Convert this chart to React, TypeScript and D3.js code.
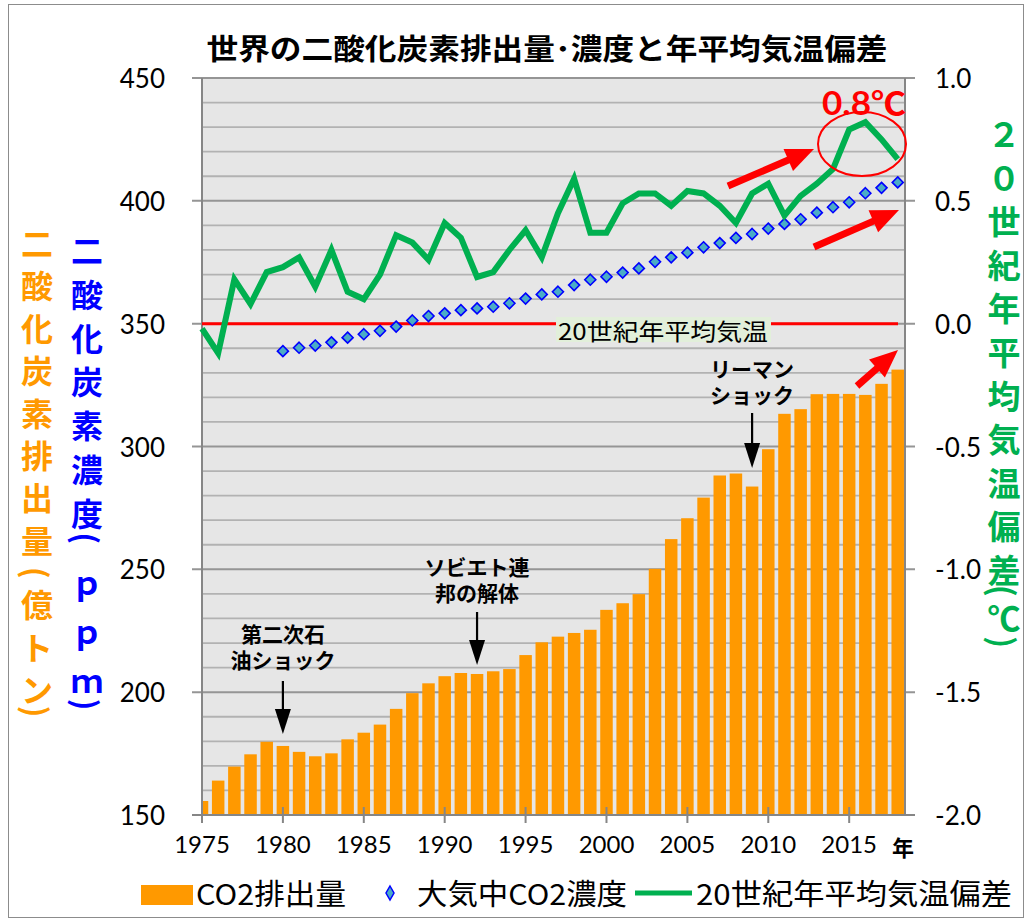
import React from 'react';
import * as d3 from 'd3';

// ---------- data ----------
const years = [
  1975, 1976, 1977, 1978, 1979, 1980, 1981, 1982, 1983, 1984,
  1985, 1986, 1987, 1988, 1989, 1990, 1991, 1992, 1993, 1994,
  1995, 1996, 1997, 1998, 1999, 2000, 2001, 2002, 2003, 2004,
  2005, 2006, 2007, 2008, 2009, 2010, 2011, 2012, 2013, 2014,
  2015, 2016, 2017, 2018,
];
// CO2 emissions (億トン)
const emissions = [
  155.7, 164.0, 169.7, 174.7, 179.8, 178.1, 175.7, 173.9, 175.1, 180.8,
  183.5, 186.8, 193.2, 199.6, 203.6, 206.5, 207.8, 207.4, 208.5, 209.4,
  215.1, 220.3, 222.6, 224.1, 225.4, 233.5, 236.2, 239.9, 250.2, 262.3,
  270.8, 279.2, 288.2, 289.0, 283.7, 298.9, 313.3, 315.2, 321.3, 321.4,
  321.4, 321.0, 325.5, 331.3,
];
// atmospheric CO2 concentration (ppm), 1980-2018
const concYears = [
  1980, 1981, 1982, 1983, 1984, 1985, 1986, 1987, 1988, 1989,
  1990, 1991, 1992, 1993, 1994, 1995, 1996, 1997, 1998, 1999,
  2000, 2001, 2002, 2003, 2004, 2005, 2006, 2007, 2008, 2009,
  2010, 2011, 2012, 2013, 2014, 2015, 2016, 2017, 2018,
];
const concentration = [
  338.8, 340.2, 341.1, 342.4, 344.3, 345.7, 347.1, 348.8, 351.3, 353.1,
  354.2, 355.5, 356.2, 356.9, 358.3, 360.2, 361.9, 363.0, 365.7, 367.9,
  369.1, 370.8, 372.5, 375.2, 377.0, 378.9, 381.1, 382.8, 384.9, 386.5,
  388.7, 390.6, 392.5, 395.2, 397.4, 399.4, 403.1, 405.3, 407.5,
];
// temperature anomaly vs 20th-century average (°C)
const anomaly = [
  -0.02, -0.12, 0.18, 0.08, 0.21, 0.23, 0.27, 0.15, 0.30, 0.13,
  0.10, 0.20, 0.36, 0.33, 0.26, 0.41, 0.35, 0.19, 0.21, 0.30,
  0.38, 0.27, 0.45, 0.59, 0.37, 0.37, 0.49, 0.53, 0.53, 0.48,
  0.54, 0.53, 0.48, 0.41, 0.53, 0.57, 0.44, 0.52, 0.57, 0.63,
  0.79, 0.82, 0.75, 0.67,
];
const xTickYears = [1975, 1980, 1985, 1990, 1995, 2000, 2005, 2010, 2015];
const leftTicks = [150, 200, 250, 300, 350, 400, 450];
const rightTicks = [-2.0, -1.5, -1.0, -0.5, 0.0, 0.5, 1.0];
const minorTicks = [160, 170, 180, 190, 210, 220, 230, 240, 260, 270, 280, 290, 310, 320, 330, 340, 360, 370, 380, 390, 410, 420, 430, 440];

const title = '世界の二酸化炭素排出量･濃度と年平均気温偏差';
const leftTitleOuter = ['二', '酸', '化', '炭', '素', '排', '出', '量', '(', '億', 'ト', 'ン', ')'];
const leftTitleInner = ['二', '酸', '化', '炭', '素', '濃', '度', '(', 'ｐ', 'ｐ', 'ｍ', ')'];
const rightTitle = ['２', '０', '世', '紀', '年', '平', '均', '気', '温', '偏', '差', '(', '℃', ')'];
const legendLabels = ['CO2排出量', '大気中CO2濃度', '20世紀年平均気温偏差'];
const baselineLabel = '20世紀年平均気温';
const peakLabel = '0.8℃';
const events = [
  { year: 1980, lines: ['第二次石', '油ショック'] },
  { year: 1992, lines: ['ソビエト連', '邦の解体'] },
  { year: 2009, lines: ['リーマン', 'ショック'] },
];

// ---------- styles ----------
const CJK = '"Noto Sans CJK JP", "Noto Sans", sans-serif';
const NUM = 'Lato, "Noto Sans CJK JP", sans-serif';
const ORANGE = '#FF9900';
const BLUE = '#0000FF';
const GREEN = '#00B050';
const RED = '#FF0000';

const W = 1028;
const H = 921;
const L = 202, R = 905, T = 78, B = 815;

const x = d3.scaleLinear().domain([1975, 2018.45]).range([L, R]);
const yL = d3.scaleLinear().domain([150, 450]).range([B, T]);
const yR = d3.scaleLinear().domain([-2, 1]).range([B, T]);

function verticalPositions(chars: string[], start: number, pitch: number, f: { openBefore: number; afterOpen: number; closeBefore: number; latin?: number }) {
  const ys: number[] = [];
  let y = start;
  chars.forEach((c, i) => {
    if (i > 0) {
      const prev = chars[i - 1];
      let adv = pitch;
      if (c === '(') adv = pitch * f.openBefore;
      else if (c === ')') adv = pitch * f.closeBefore;
      else if (prev === '(') adv = pitch * f.afterOpen;
      else if (f.latin && /[ｐｍ]/.test(c) && /[ｐｍ]/.test(prev)) adv = f.latin;
      y += adv;
    }
    ys.push(y);
  });
  return ys;
}

function VerticalTitle({ chars, ys, cx, size, color }: { chars: string[]; ys: number[]; cx: number; size: number; color: string }) {
  return (
    <g>
      {chars.map((c, i) => {
        const paren = c === '(' || c === ')';
        return (
          <text key={i} x={cx} y={ys[i]} textAnchor="middle" dominantBaseline="central"
            transform={paren ? `rotate(90, ${cx}, ${ys[i]})` : undefined}
            fontFamily={CJK} fontWeight={700} fontSize={paren ? size * 0.98 : size} fill={color}>{c}</text>
        );
      })}
    </g>
  );
}

function RedArrow({ x1, y1, x2, y2 }: { x1: number; y1: number; x2: number; y2: number }) {
  const a = Math.atan2(y2 - y1, x2 - x1);
  const hl = 28, hw = 12;
  const bx = x2 - hl * Math.cos(a), by = y2 - hl * Math.sin(a);
  const px = -Math.sin(a), py = Math.cos(a);
  const pts = [[x2, y2], [bx + hw * px, by + hw * py], [bx - hw * px, by - hw * py]];
  return (
    <g>
      <line x1={x1} y1={y1} x2={bx + 2 * Math.cos(a)} y2={by + 2 * Math.sin(a)} stroke={RED} strokeWidth={7} />
      <polygon points={pts.map(p => p.join(',')).join(' ')} fill={RED} />
    </g>
  );
}

function DownArrow({ cx, y1, y2 }: { cx: number; y1: number; y2: number }) {
  const hl = 25, hw = 8;
  return (
    <g>
      <line x1={cx} y1={y1} x2={cx} y2={y2 - hl + 2} stroke="#000" strokeWidth={2.2} />
      <polygon points={`${cx},${y2} ${cx - hw},${y2 - hl} ${cx + hw},${y2 - hl}`} fill="#000" />
    </g>
  );
}

export default function App() {
  const barW = 12.5;
  const line = d3.line<number>().x((_, i) => x(years[i])).y(d => yR(d));
  const diamond = (cx: number, cy: number) => `M${cx},${cy - 5.5} L${cx + 5.5},${cy} L${cx},${cy + 5.5} L${cx - 5.5},${cy} Z`;

  const orangeYs = verticalPositions(leftTitleOuter, 242, 42.4, { openBefore: 0.8, afterOpen: 0.72, closeBefore: 0.55 });
  const blueYs = verticalPositions(leftTitleInner, 249, 43.8, { openBefore: 0.6, afterOpen: 0.98, closeBefore: 0.58, latin: 49 });
  const greenYs = verticalPositions(rightTitle, 133, 43.6, { openBefore: 0.5, afterOpen: 0.6, closeBefore: 0.58 });

  const eventLayout: Record<number, { t1: number; a1: number; a2: number }> = {
    1980: { t1: 642, a1: 681, a2: 734 },
    1992: { t1: 575, a1: 612, a2: 665 },
    2009: { t1: 377, a1: 413, a2: 468 },
  };

  return (
    <svg width={W} height={H} style={{ position: 'absolute', left: 0, top: 0, background: '#fff' }}>
      <defs>
        <clipPath id="plotClip">
          <rect x={L} y={T} width={R - L} height={B - T} />
        </clipPath>
      </defs>
      <rect x={8.5} y={4.5} width={1015} height={913} fill="#fff" stroke="#8c8c8c" strokeWidth={1} />

      {/* title */}
      <text x={547} y={47} textAnchor="middle" dominantBaseline="central" fontFamily={CJK} fontWeight={700} fontSize={29}
        textLength={681} lengthAdjust="spacingAndGlyphs">{title}</text>

      {/* plot background */}
      <rect x={L} y={T} width={R - L} height={B - T} fill="#E6E6E6" />
      {minorTicks.map(v => (
        <line key={'m' + v} x1={L} x2={R} y1={yL(v)} y2={yL(v)} stroke="#B2B2B2" strokeWidth={1.8} />
      ))}
      {leftTicks.map(v => (
        <line key={'M' + v} x1={L - 10} x2={R + 10} y1={yL(v)} y2={yL(v)} stroke="#959595" strokeWidth={2} />
      ))}

      {/* bars */}
      <g clipPath="url(#plotClip)">
        {emissions.map((v, i) => (
          <rect key={years[i]} x={x(years[i]) - barW / 2} y={yL(v)} width={barW} height={B - yL(v)} fill={ORANGE} />
        ))}
      </g>

      {/* axes */}
      <line x1={L} x2={L} y1={T} y2={B + 1} stroke="#868686" strokeWidth={2} />
      <line x1={R} x2={R} y1={T} y2={B + 1} stroke="#868686" strokeWidth={2} />
      <line x1={L - 10} x2={R + 10} y1={B} y2={B} stroke="#868686" strokeWidth={2} />
      {xTickYears.map(yr => (
        <line key={'xt' + yr} x1={x(yr)} x2={x(yr)} y1={B - 8} y2={B + 8} stroke="#868686" strokeWidth={2} />
      ))}

      {/* baseline (0.0) */}
      <line x1={L} x2={898} y1={yR(0)} y2={yR(0)} stroke={RED} strokeWidth={3} />
      <rect x={556} y={317} width={215} height={25} fill="#E2EFDA" />
      <text x={558} y={340} fontFamily={CJK} fontSize={23} fill="#000" textLength={210} lengthAdjust="spacingAndGlyphs">{baselineLabel}</text>

      {/* concentration diamonds */}
      {concentration.map((v, i) => (
        <path key={'c' + i} d={diamond(x(concYears[i]), yL(v))} fill="#4BACC6" stroke={BLUE} strokeWidth={1.6} />
      ))}

      {/* temperature line */}
      <path d={line(anomaly) || ''} fill="none" stroke={GREEN} strokeWidth={6} strokeLinejoin="miter" />

      {/* peak annotation */}
      <ellipse cx={862} cy={144} rx={44} ry={32} fill="none" stroke={RED} strokeWidth={2} />
      <text x={822} y={115} fontFamily={NUM} fontWeight={700} fontSize={32} fill={RED} textLength={84} lengthAdjust="spacingAndGlyphs">{peakLabel}</text>
      <RedArrow x1={728} y1={186} x2={814} y2={149} />
      <RedArrow x1={814} y1={247} x2={899} y2={210} />
      <RedArrow x1={857} y1={386} x2={898} y2={350} />

      {/* event annotations */}
      {events.map(ev => {
        const lay = eventLayout[ev.year];
        const cx = x(ev.year);
        return (
          <g key={ev.year}>
            {ev.lines.map((s, j) => (
              <text key={j} x={cx} y={lay.t1 + j * 26} textAnchor="middle" fontFamily={CJK} fontWeight={700} fontSize={21} fill="#000">{s}</text>
            ))}
            <DownArrow cx={cx} y1={lay.a1} y2={lay.a2} />
          </g>
        );
      })}

      {/* left tick labels */}
      {leftTicks.map(v => (
        <text key={'lt' + v} x={165} y={yL(v)} textAnchor="end" dominantBaseline="central" fontFamily={NUM} fontSize={26} fill="#000">{v}</text>
      ))}
      {/* right tick labels */}
      {rightTicks.map(v => (
        <text key={'rt' + v} x={935} y={yR(v)} textAnchor="start" dominantBaseline="central" fontFamily={NUM} fontSize={26} fill="#000">{d3.format('.1f')(v).replace('−', '-')}</text>
      ))}
      {/* x tick labels */}
      {xTickYears.map(yr => (
        <text key={'xl' + yr} x={x(yr)} y={853} textAnchor="middle" fontFamily={NUM} fontSize={24} fill="#000">{yr}</text>
      ))}
      <text x={903} y={856} textAnchor="middle" fontFamily={CJK} fontWeight={700} fontSize={22} fill="#000">年</text>

      {/* vertical axis titles */}
      <VerticalTitle chars={leftTitleOuter} ys={orangeYs} cx={37} size={32} color={ORANGE} />
      <VerticalTitle chars={leftTitleInner} ys={blueYs} cx={87} size={32} color={BLUE} />
      <VerticalTitle chars={rightTitle} ys={greenYs} cx={1004} size={33} color={GREEN} />

      {/* legend */}
      <rect x={141} y={885} width={52} height={20} fill={ORANGE} />
      <text x={196} y={905} fontFamily={CJK} fontSize={29} fill="#000" textLength={150} lengthAdjust="spacingAndGlyphs">{legendLabels[0]}</text>
      <path d={`M390,886 L394,893 L390,900 L386,893 Z`} fill="#4BACC6" stroke={BLUE} strokeWidth={1.5} />
      <text x={417} y={905} fontFamily={CJK} fontSize={29} fill="#000" textLength={210} lengthAdjust="spacingAndGlyphs">{legendLabels[1]}</text>
      <line x1={635} x2={692} y1={893} y2={893} stroke={GREEN} strokeWidth={5} />
      <text x={696} y={905} fontFamily={CJK} fontSize={29} fill="#000" textLength={316} lengthAdjust="spacingAndGlyphs">{legendLabels[2]}</text>
    </svg>
  );
}
